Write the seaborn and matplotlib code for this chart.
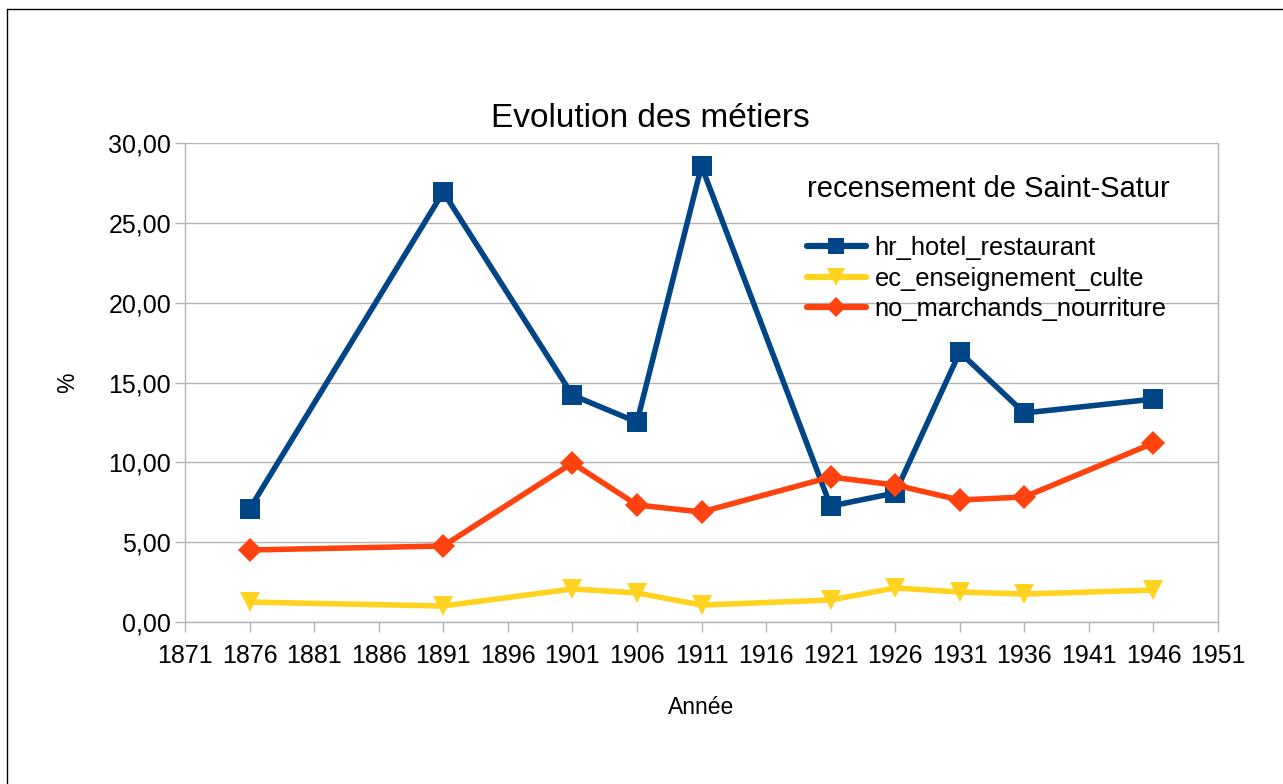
import matplotlib
matplotlib.use("Agg")
import matplotlib.pyplot as plt
import seaborn as sns
import pandas as pd
from matplotlib.lines import Line2D
from matplotlib.ticker import FuncFormatter

years = [1876, 1891, 1901, 1906, 1911, 1921, 1926, 1931, 1936, 1946]
hr_hotel_restaurant = [7.08, 26.93, 14.21, 12.52, 28.55, 7.26, 8.08, 16.90, 13.09, 13.96]
ec_enseignement_culte = [1.25, 1.00, 2.07, 1.82, 1.06, 1.38, 2.13, 1.88, 1.75, 2.00]
no_marchands_nourriture = [4.51, 4.76, 9.96, 7.33, 6.89, 9.08, 8.58, 7.64, 7.83, 11.21]
series_names = ["hr_hotel_restaurant", "ec_enseignement_culte", "no_marchands_nourriture"]
x_ticks = list(range(1871, 1952, 5))
y_ticks = [0, 5, 10, 15, 20, 25, 30]

colors = ["#004586", "#ffd320", "#ff420e"]
markers = ["s", "v", "D"]
msizes = [14, 15, 12]

df = pd.DataFrame({
    "year": years * 3,
    "value": hr_hotel_restaurant + ec_enseignement_culte + no_marchands_nourriture,
    "series": [series_names[0]] * len(years) + [series_names[1]] * len(years) + [series_names[2]] * len(years),
})

sns.set_theme(style="white")
plt.rcParams["font.family"] = ["Liberation Sans", "DejaVu Sans"]
plt.rcParams["text.color"] = "black"
plt.rcParams["axes.labelcolor"] = "black"

fig = plt.figure(figsize=(12.83, 7.84), dpi=100)
ax = fig.add_axes([185 / 1283, 1 - 622 / 784, (1218 - 185) / 1283, (622 - 143) / 784])

for name, c, m, ms in zip(series_names, colors, markers, msizes):
    sub = df[df["series"] == name]
    sns.lineplot(data=sub, x="year", y="value", ax=ax, color=c, marker=m,
                 markersize=ms, markeredgewidth=0, linewidth=4.0, label=name,
                 legend=False, zorder=3)

ax.set_xlim(1871, 1951)
ax.set_ylim(0, 30)
ax.set_xticks(x_ticks)
ax.set_yticks(y_ticks)
ax.yaxis.set_major_formatter(FuncFormatter(lambda v, p: f"{v:.2f}".replace(".", ",")))
ax.grid(axis="y", color="#b3b3b3", linewidth=1)
ax.grid(axis="x", visible=False)
for s in ["left", "bottom", "right"]:
    ax.spines[s].set_color("#b3b3b3")
    ax.spines[s].set_linewidth(1)
ax.spines["top"].set_visible(False)
ax.tick_params(axis="both", which="major", length=7, width=1, color="#b3b3b3",
               labelsize=18, labelcolor="black", direction="out")
ax.tick_params(axis="x", bottom=True, pad=9)
ax.tick_params(axis="y", left=True, pad=3)

ax.set_xlabel("Année", fontsize=16.5, va="center", color="black")
ax.xaxis.set_label_coords(0.5, (622 - 707) / 479)
ax.set_ylabel("%", fontsize=16.5, va="center", color="black")
ax.yaxis.set_label_coords((68 - 185) / 1033, 0.5)
fig.text(650 / 1283, 1 - 127 / 784, "Evolution des métiers", fontsize=24,
         ha="center", va="baseline", color="black")

handles = [Line2D([], [], color=c, marker=m, markersize=ms * 0.85, markeredgewidth=0, linewidth=4.5)
           for c, m, ms in zip(colors, markers, msizes)]
leg = ax.legend(handles, series_names, title="recensement de Saint-Satur",
                frameon=False, loc="upper left", bbox_to_anchor=(784 / 1283, 1 - 152 / 784),
                bbox_transform=fig.transFigure, fontsize=18.4, title_fontsize=21,
                handlelength=2.3, handletextpad=0.35, labelspacing=0.25,
                alignment="left")
leg._legend_box.sep = 24
leg.get_title().set_color("black")
for t in leg.get_texts():
    t.set_color("black")

fig.add_artist(Line2D([7 / 1283, 7 / 1283], [0, 1 - 9 / 784], color="black", linewidth=1,
                      transform=fig.transFigure))
fig.add_artist(Line2D([7 / 1283, 1], [1 - 9 / 784, 1 - 9 / 784], color="black", linewidth=1,
                      transform=fig.transFigure))

fig.savefig("out.png", dpi=100)
